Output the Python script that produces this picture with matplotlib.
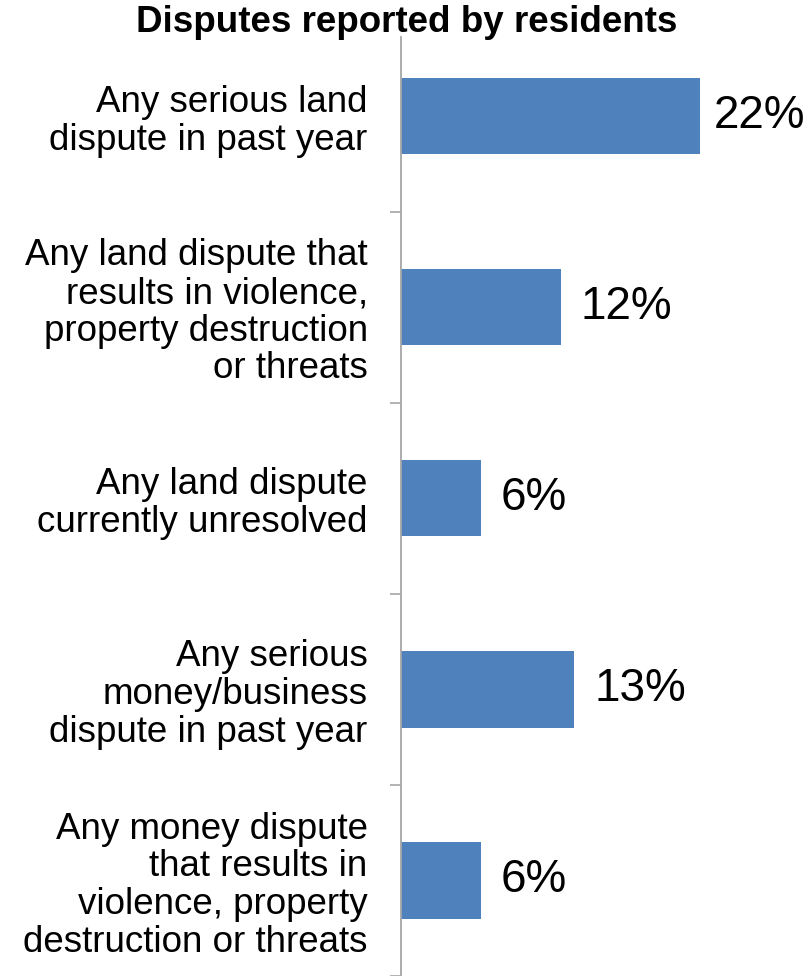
import matplotlib
matplotlib.use('Agg')
import matplotlib.pyplot as plt
import numpy as np

plt.rcParams['font.family'] = ['Liberation Sans', 'DejaVu Sans']

# Data
categories = ['Any serious land\ndispute in past year',
              'Any land dispute that\nresults in violence,\nproperty destruction\nor threats',
              'Any land dispute\ncurrently unresolved',
              'Any serious\nmoney/business\ndispute in past year',
              'Any money dispute\nthat results in\nviolence, property\ndestruction or threats']
values = [22.4, 12, 6, 13, 6]
title = 'Disputes reported by residents'

bar_color = '#4F81BD'
axis_gray = '#A6A6A6'

fig = plt.figure(figsize=(8.1, 9.76), dpi=100)
W, H = 810, 976
# axes: left at x=401 px, top at y=37 px, reaching right/bottom edge
ax = fig.add_axes([401 / W, 0, 1 - 401 / W, 1 - 37 / H])

y = np.arange(len(categories))
ax.barh(y, values, height=0.4, color=bar_color, zorder=2)

step = 193.6
xmax = (W - 401) / 13.33
ax.set_xlim(0, xmax)
ax.set_ylim((976 - 117) / step, -(117 - 37) / step)

for yi, v in zip(y, values):
    txt = f'{round(v)}%'
    if v + 1.5 + 7 > xmax:
        ax.text(xmax - 0.35, yi, txt, ha='right', va='center', fontsize=33)
    else:
        ax.text(v + 1.5, yi, txt, ha='left', va='center', fontsize=33)

ax.set_yticks(y)
ax.set_yticklabels(categories, fontsize=26.5, linespacing=1.1, ha='right')
ax.tick_params(axis='y', which='major', length=0, pad=24)
ax.set_yticks(np.arange(len(categories)) + 0.5, minor=True)
ax.tick_params(axis='y', which='minor', length=8, width=1.2, color=axis_gray, direction='out')
ax.set_xticks([])

for s in ['top', 'right', 'bottom']:
    ax.spines[s].set_visible(False)
ax.spines['left'].set_color(axis_gray)
ax.spines['left'].set_linewidth(1.3)

fig.text(407 / W, 1 - 23 / H, title, ha='center', va='center',
         fontsize=26.5, fontweight='bold', zorder=5)

fig.savefig('out.png', dpi=100)
